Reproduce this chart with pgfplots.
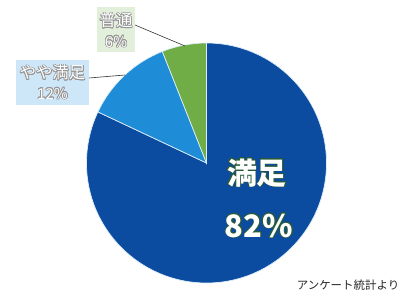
\documentclass[border=0pt]{standalone}
\usepackage{pgfplots}
\usepackage{pgfplotstable}
\pgfplotsset{compat=1.18}
\usepackage{fontspec}
\setmainfont{Noto Sans CJK JP}
\usepackage[copies]{contour}
\contournumber{16}
\definecolor{cdark}{RGB}{11,76,160}
\definecolor{clight}{RGB}{30,140,215}
\definecolor{cgreen}{RGB}{112,173,71}
\definecolor{boxblue}{RGB}{205,230,248}
\definecolor{boxgreen}{RGB}{226,239,218}
\definecolor{lbl}{RGB}{150,150,150}
\definecolor{glow}{RGB}{40,90,60}
\pgfplotstableread{
idx value
0 82
1 12
2 6
}\piedata
\begin{document}%
\begin{tikzpicture}
\pgfplotstablegetelem{0}{value}\of\piedata\let\va\pgfplotsretval
\pgfplotstablegetelem{1}{value}\of\piedata\let\vb\pgfplotsretval
\pgfplotstablegetelem{2}{value}\of\piedata\let\vc\pgfplotsretval
\pgfmathsetmacro\aA{90-3.6*\va}
\pgfmathsetmacro\aB{\aA-3.6*\vb}
\pgfmathsetmacro\aC{\aB-3.6*\vc}
\begin{axis}[x=1bp,y=1bp,xmin=0,xmax=418,ymin=0,ymax=297,hide axis,clip=false]
\coordinate (bl) at (axis cs:0,0);
\coordinate (tr) at (axis cs:418,297);
\fill[cdark,draw=white!85!clight,line width=0.7pt] (axis cs:206.5,134) -- ([shift={(90:120bp)}]axis cs:206.5,134) arc[start angle=90,end angle=\aA,radius=120bp] -- cycle;
\fill[clight,draw=white!85!clight,line width=0.7pt] (axis cs:206.5,134) -- ([shift={(\aA:120bp)}]axis cs:206.5,134) arc[start angle=\aA,end angle=\aB,radius=120bp] -- cycle;
\fill[cgreen,draw=white!85!clight,line width=0.7pt] (axis cs:206.5,134) -- ([shift={(\aB:120bp)}]axis cs:206.5,134) arc[start angle=\aB,end angle=\aC,radius=120bp] -- cycle;
% leader lines
\draw[black!80,line width=0.6pt] (axis cs:135,272) -- (axis cs:185,251);
\draw[black!80,line width=0.6pt] (axis cs:89,219) -- (axis cs:125,222);
% boxes
\fill[boxgreen] (axis cs:97,245) rectangle (axis cs:135,290);
\fill[boxblue] (axis cs:16,192) rectangle (axis cs:89,237);
\contourlength{0.45pt}
\node[text=white,font=\fontsize{16.5}{16.5}\selectfont] at (axis cs:116,276) {\contour{lbl}{普通}};
\node[text=white,font=\fontsize{15}{15}\selectfont] at (axis cs:116,255) {\contour{lbl}{6\%}};
\node[text=white,font=\fontsize{16.5}{16.5}\selectfont] at (axis cs:52.5,224) {\contour{lbl}{やや満足}};
\node[text=white,font=\fontsize{15}{15}\selectfont] at (axis cs:52.5,203) {\contour{lbl}{12\%}};
\contourlength{0.7pt}
\node[text=white,font=\fontsize{30}{30}\selectfont\bfseries] at (axis cs:257,124) {\contour{glow}{満足}};
\node[text=white,font=\fontsize{31}{31}\selectfont\bfseries] at (axis cs:259,71) {\contour{glow}{82\%}};
\node[text=black!85,font=\fontsize{11.5}{11.5}\selectfont] at (axis cs:348,12) {アンケート統計より};
\end{axis}
\pgfresetboundingbox
\path (bl) rectangle (tr);
\end{tikzpicture}%
\end{document}
